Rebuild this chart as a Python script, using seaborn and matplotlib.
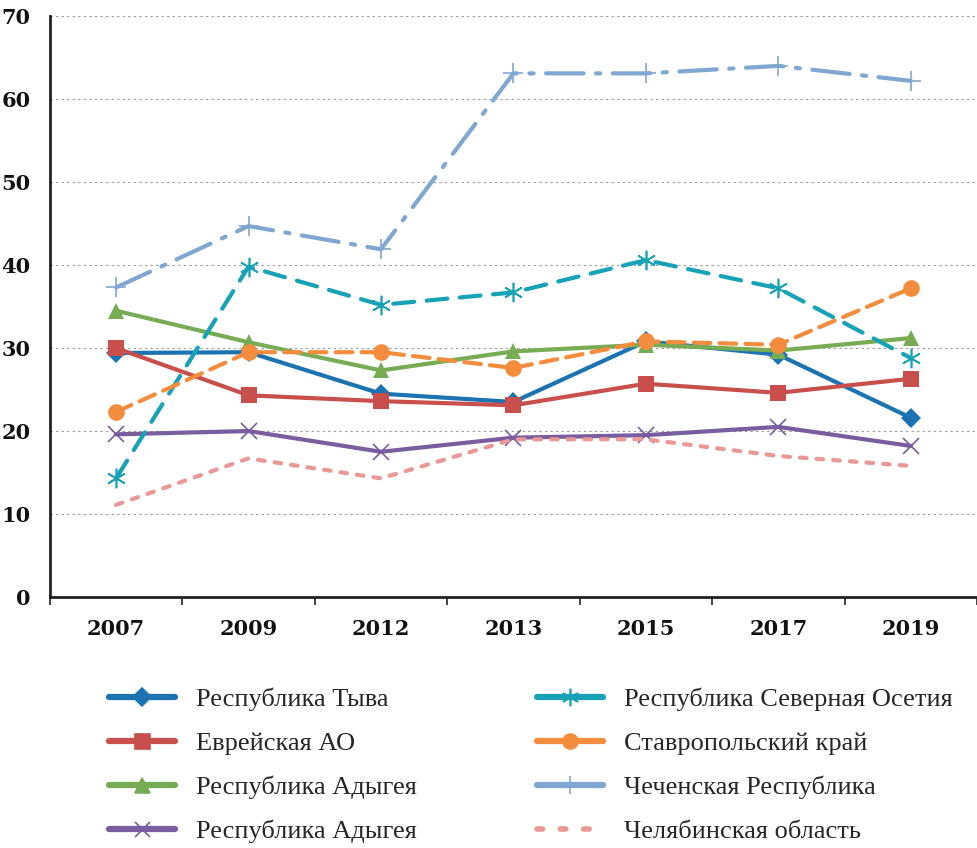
import numpy as np
import pandas as pd
import matplotlib
matplotlib.use("Agg")
import matplotlib.pyplot as plt
from matplotlib.lines import Line2D
import seaborn as sns

# data
years = ["2007", "2009", "2012", "2013", "2015", "2017", "2019"]
tyva = [29.4, 29.5, 24.5, 23.5, 30.8, 29.2, 21.6]
evr_ao = [30.0, 24.3, 23.6, 23.1, 25.7, 24.6, 26.3]
adygea = [34.5, 30.7, 27.3, 29.6, 30.4, 29.7, 31.2]
adygea_2 = [19.6, 20.0, 17.5, 19.2, 19.5, 20.5, 18.2]
sev_osetia = [14.3, 39.8, 35.2, 36.7, 40.6, 37.2, 28.8]
stavropol = [22.3, 29.5, 29.5, 27.6, 30.8, 30.4, 37.2]
chechnya = [37.3, 44.7, 41.9, 63.1, 63.1, 64.0, 62.2]
chelyab = [11.1, 16.7, 14.3, 19.0, 19.0, 17.0, 15.8]

names = ["Республика Тыва", "Еврейская АО", "Республика Адыгея", "Республика Адыгея",
         "Республика Северная Осетия", "Ставропольский край", "Чеченская Республика",
         "Челябинская область"]
series = [tyva, evr_ao, adygea, adygea_2, sev_osetia, stavropol, chechnya, chelyab]
colors = ["#1b74b1", "#c94f4d", "#77ac55", "#7a5d9e", "#17a2b8", "#f48c3d", "#80a7d2", "#e99895"]
markers = ["D", "s", "^", "x", (6, 2, 0), "o", "+", None]
msizes = [10.5, 12, 12, 12, 14, 12, 14, 0]
dashes = [None, None, None, None, (5, 3), (4, 2.2), (9, 3, 1.0, 3), (1.6, 2.4)]

sns.set_theme(style="white")
plt.rcParams["font.family"] = ["DejaVu Serif"]

fig = plt.figure(figsize=(9.77, 8.48), dpi=100)
ax = fig.add_axes([0.051, 0.296, 0.949, 0.685])

lw = 3.0
for name, vals, c, m, ms, d in zip(names, series, colors, markers, msizes, dashes):
    df = pd.DataFrame({"year": years, "value": vals})
    sns.lineplot(data=df, x="year", y="value", ax=ax, color=c, lw=lw,
                 marker=m, markersize=ms, markeredgewidth=1.2 if m in ("x", "+", (6, 2, 0)) else 0,
                 markeredgecolor=c, sort=False, legend=False)
    line = ax.lines[-1]
    if d is not None:
        line.set_dashes(d)
        line.set_dash_capstyle("round")

ax.set_xlim(-0.5, 6.5)
ax.set_ylim(0, 70)
ax.set_yticks(range(0, 80, 10))
ax.set_xlabel("")
ax.set_ylabel("")
ax.grid(axis="y", color="#999999", linestyle=(0, (2, 3)), linewidth=0.8)
ax.grid(axis="x", visible=False)
for s in ["top", "right"]:
    ax.spines[s].set_visible(False)
for s in ["left", "bottom"]:
    ax.spines[s].set_color("#222222")
    ax.spines[s].set_linewidth(2)
ax.set_xticks(np.arange(-0.5, 7, 1), minor=True)
ax.tick_params(axis="x", which="major", length=0, pad=16, labelsize=15, colors="#111111")
ax.tick_params(axis="x", which="minor", length=6, width=1.2, color="#222222", direction="out", bottom=True)
ax.tick_params(axis="y", length=0, pad=14, labelsize=15, colors="#111111")
for t in ax.get_xticklabels() + ax.get_yticklabels():
    t.set_fontweight("semibold")

# legend: solid lines except the last dotted one
handles = []
for i, (c, m, ms) in enumerate(zip(colors, markers, msizes)):
    if i == 7:
        h = Line2D([], [], color=c, lw=4, linestyle=(0, (1.0, 3.2)), dash_capstyle="round")
    else:
        h = Line2D([], [], color=c, lw=4.5, marker=m, markersize=ms * 0.9, solid_capstyle="round",
                   markeredgewidth=1.2, markeredgecolor=c)
    handles.append(h)
fig.legend(handles, names, loc="upper left", bbox_to_anchor=(0.087, 0.217), ncol=2,
           frameon=False, handlelength=2.5, handletextpad=0.8, columnspacing=4.55,
           labelspacing=0.78, prop={"family": "Liberation Serif", "size": 19})

fig.savefig("out.png", dpi=100)
